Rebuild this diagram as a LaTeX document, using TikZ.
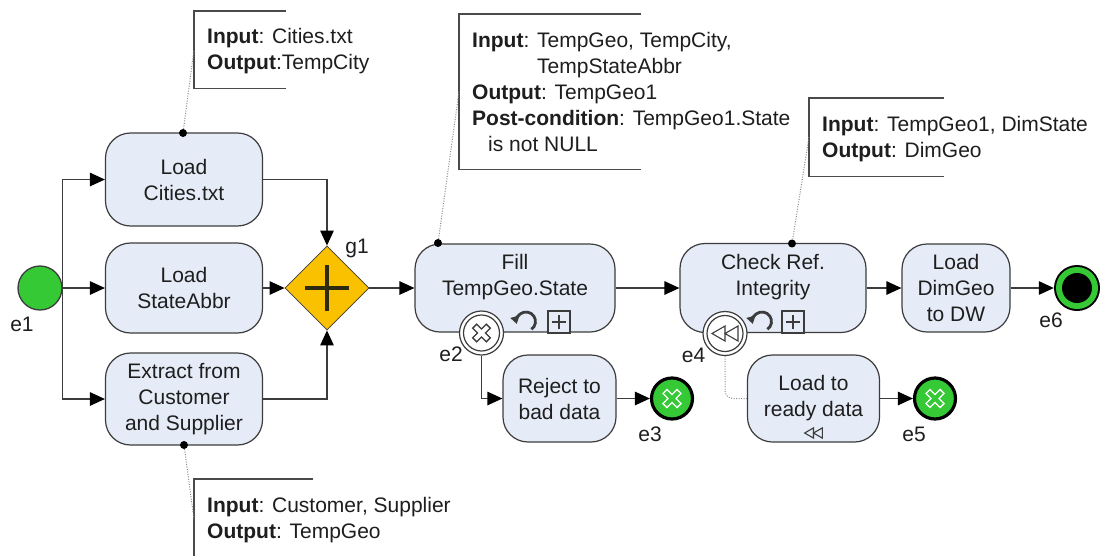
\documentclass[tikz,border=0pt]{standalone}
\usepackage{fontspec}
\setmainfont{Liberation Sans}
\usetikzlibrary{arrows.meta,shapes.geometric,calc}

\definecolor{taskfill}{HTML}{E6ECF7}
\definecolor{edge}{HTML}{3C3C3C}
\definecolor{evgreen}{HTML}{35C935}
\definecolor{gwgold}{HTML}{F9C100}
\definecolor{gwplus}{HTML}{2E2A10}
\definecolor{ink}{HTML}{1E1E1E}
\definecolor{assoc}{HTML}{8C8C8C}
\definecolor{bracketc}{HTML}{4A4A4A}

\tikzset{
  every node/.style={font=\fontsize{21}{26}\selectfont, text=ink},
  task/.style={draw=edge, fill=taskfill, line width=1.2pt, rounded corners=25pt,
               align=center, inner sep=0pt},
  flow/.style={draw=edge, line width=1.2pt, -{Triangle[length=15pt,width=13.5pt,color=black]}},
  assocline/.style={draw=assoc, line width=1pt, dash pattern=on 1pt off 1.5pt},
  bracketline/.style={draw=bracketc, line width=1.5pt},
  annframe/.style={inner sep=0pt, anchor=north west},
  anntext/.style={inner sep=0pt, anchor=north west, align=left},
  dotmark/.style={circle, fill=black, inner sep=0pt, minimum size=8pt},
  evlabel/.style={inner sep=0pt},
  startev/.style={circle, draw=edge, line width=1.3pt, fill=evgreen, minimum size=44pt, inner sep=0pt},
  endx/.style={circle, draw=black, line width=3.2pt, fill=evgreen, minimum size=41pt, inner sep=0pt},
  boundev/.style={circle, draw=edge, line width=1.2pt, fill=white, minimum size=44pt, inner sep=0pt},
  loopmark/.pic={
    \draw[edge, line width=2.8pt, -{Triangle[length=7.5pt,width=9pt]}] (55:9.5) arc (55:-195:9.5);
  },
  plusmark/.pic={
    \draw[edge, line width=1.1pt, fill=taskfill] (-11,-11) rectangle (11,11);
    \draw[edge, line width=1.1pt] (-7,0) -- (7,0) (0,-7) -- (0,7);
  },
  rewindmark/.pic={
    \draw[edge, line width=1.1pt, line join=miter] (-13,0) -- (0,-7.5) -- (0,7.5) -- cycle
      (0,0) -- (13,-7.5) -- (13,7.5) -- cycle;
  },
}

\begin{document}
\begin{tikzpicture}[x=1pt, y=-1pt]
\useasboundingbox (0,0) rectangle (1101,555);
\fill[white] (0,0) rectangle (1101,555);
\clip (0,0) rectangle (1101,555);

% ---------- tasks ----------
\node[task, minimum width=157pt, minimum height=93pt] (cities)  at (184,179.5) {Load\\Cities.txt};
\node[task, minimum width=157pt, minimum height=90pt] (abbr)    at (184,288)   {Load\\StateAbbr};
\node[task, minimum width=157pt, minimum height=92pt] (extract) at (184,399)   {Extract from\\Customer\\and Supplier};
\node[task, minimum width=200pt, minimum height=88pt] (fill)    at (515,288)   {Fill\\TempGeo.State\\\mbox{}};
\node[task, minimum width=113pt, minimum height=87pt] (reject)  at (559.5,398.5) {Reject to\\bad data};
\node[task, minimum width=186pt, minimum height=89pt] (check)   at (773,288)   {Check Ref.\\Integrity\\\mbox{}};
\node[task, minimum width=132pt, minimum height=87pt] (ready)   at (813.5,398.5) {Load to\\ready data};
\node[task, minimum width=108pt, minimum height=88pt] (dimgeo)  at (956,288)   {Load\\DimGeo\\to DW};

% task markers: loop and sub-process
\pic at (526,321.5) {loopmark};
\pic at (559,322) {plusmark};
\pic at (762,321.5) {loopmark};
\pic at (793,322) {plusmark};
\pic[scale=0.68] at (813.5,433) {rewindmark};

% ---------- start event and gateway ----------
\node[startev] (e1) at (40,288) {};
\node[evlabel] (e1l) at (22,324) {e1};

\node[diamond, aspect=1, draw=edge, line width=0.8pt, fill=gwgold,
      minimum width=84pt, minimum height=84pt, inner sep=0pt] (g1) at (327,288) {};
\draw[gwplus, line width=3.2pt] ([xshift=-22pt]g1.center) -- ([xshift=22pt]g1.center)
      ([yshift=-23pt]g1.center) -- ([yshift=23pt]g1.center);
\node[evlabel] (g1l) at (357,248) {g1};

% ---------- boundary events ----------
\node[boundev] (e2) at (481.5,333) {};
\draw[edge, line width=1.2pt] (e2.center) circle (18pt);
\draw[edge, line width=7pt] ($(e2.center)+(-7.3,-7.3)$) -- ($(e2.center)+(7.3,7.3)$)
      ($(e2.center)+(-7.3,7.3)$) -- ($(e2.center)+(7.3,-7.3)$);
\draw[white, line width=4.2pt] ($(e2.center)+(-6.2,-6.2)$) -- ($(e2.center)+(6.2,6.2)$)
      ($(e2.center)+(-6.2,6.2)$) -- ($(e2.center)+(6.2,-6.2)$);
\node[evlabel] (e2l) at (451,354) {e2};

\node[boundev] (e4) at (725,333.5) {};
\draw[edge, line width=1.2pt] (e4.center) circle (18pt);
\pic at (725,333.5) {rewindmark};
\node[evlabel] (e4l) at (693.5,355) {e4};

% ---------- end events ----------
\node[endx] (e3) at (672,398.5) {};
\node[endx] (e5) at (935,398.5) {};
\foreach \ev in {e3,e5}{
  \draw[white, line width=7pt] ($(\ev.center)+(-7.5,-7.5)$) -- ($(\ev.center)+(7.5,7.5)$)
        ($(\ev.center)+(-7.5,7.5)$) -- ($(\ev.center)+(7.5,-7.5)$);
  \draw[evgreen, line width=4pt] ($(\ev.center)+(-6.4,-6.4)$) -- ($(\ev.center)+(6.4,6.4)$)
        ($(\ev.center)+(-6.4,6.4)$) -- ($(\ev.center)+(6.4,-6.4)$);
}
\node[evlabel] (e3l) at (650,434) {e3};
\node[evlabel] (e5l) at (914,434) {e5};

\node[circle, fill=black, minimum size=46pt, inner sep=0pt] (e6) at (1077,288) {};
\fill[evgreen] (e6.center) circle (21pt);
\fill[black] (e6.center) circle (15pt);
\node[evlabel] (e6l) at (1051,320) {e6};

% ---------- sequence flows ----------
\draw[flow] (e1.east) |- (cities.west);
\draw[flow] (e1.east) -- (abbr.west);
\draw[flow] (e1.east) |- (extract.west);
\draw[flow] (cities.east) -| (g1.north);
\draw[flow] (abbr.east) -- (g1.west);
\draw[flow] (extract.east) -| (g1.south);
\draw[flow] (g1.east) -- (fill.west);
\draw[flow] (fill.east) -- (check.west);
\draw[flow] (check.east) -- (dimgeo.west);
\draw[flow] (dimgeo.east) -- (e6.west);
\draw[flow] (e2.south) |- (reject.west);
\draw[flow] (reject.east) -- (e3.west);
\draw[flow] (ready.east) -- (e5.west);
\draw[assocline, rounded corners=8pt] (e4.south) |- (ready.west);

% ---------- text annotations ----------
\node[annframe, minimum width=92pt, minimum height=77pt] (a1) at (194,11) {};
\node[annframe, minimum width=182pt, minimum height=155pt] (a2) at (459,14) {};
\node[annframe, minimum width=135pt, minimum height=78pt] (a3) at (809,98) {};
\node[annframe, minimum width=119pt, minimum height=80pt] (a4) at (194,479) {};
\foreach \a in {a1,a2,a3,a4}{
  \draw[bracketline] (\a.north east) -- (\a.north west) -- (\a.south west) -- (\a.south east);
}

\node[anntext] (a1t) at (207,24.8) {\strut\textbf{Input}: Cities.txt\\\textbf{Output}:TempCity};
\node[anntext] (a2t) at (472,28.8) {\strut\textbf{Input}: TempGeo, TempCity,\\
  \hspace*{65pt}TempStateAbbr\\
  \textbf{Output}: TempGeo1\\
  \textbf{Post-condition}: TempGeo1.State\\
  \hspace*{16pt}is not NULL};
\node[anntext] (a3t) at (822,112.8) {\strut\textbf{Input}: TempGeo1, DimState\\\textbf{Output}: DimGeo};
\node[anntext] (a4t) at (207,493.8) {\strut\textbf{Input}: Customer, Supplier\\\textbf{Output}: TempGeo};

% associations
\node[dotmark] (d1) at (183,133) {};
\node[dotmark] (d2) at (438,243) {};
\node[dotmark] (d3) at (792,243.5) {};
\node[dotmark] (d4) at (184,445) {};
\draw[assocline] (d1) -- (a1.west);
\draw[assocline] (d2) -- (a2.west);
\draw[assocline] (d3) -- (a3.west);
\draw[assocline] (d4) -- (a4.west);
\end{tikzpicture}
\end{document}
